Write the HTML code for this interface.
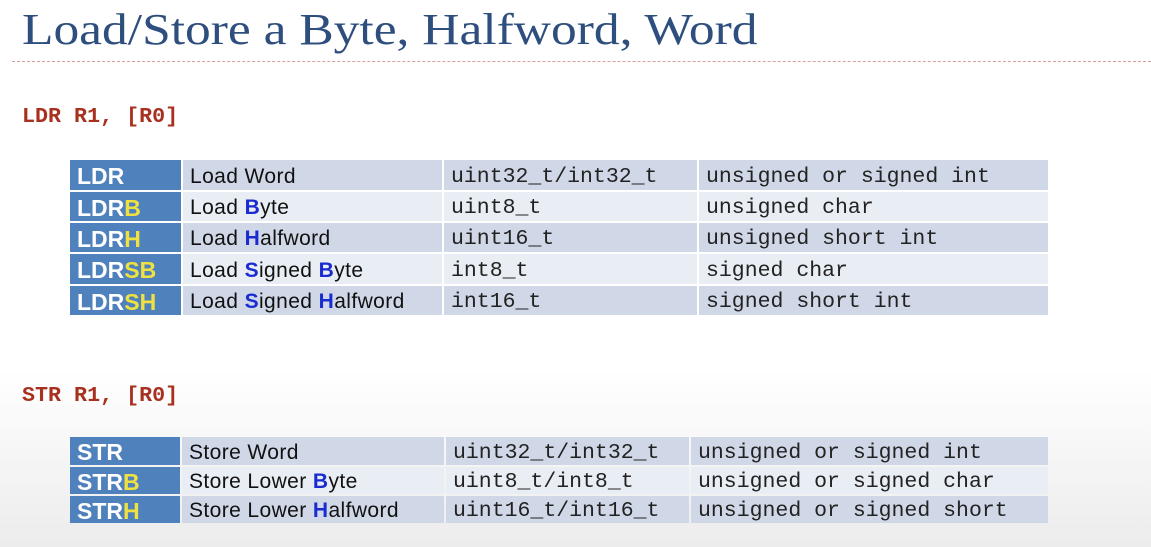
<!DOCTYPE html>
<html><head><style>
body{margin:0;width:1151px;height:547px;overflow:hidden;position:relative;font-family:"Liberation Sans",sans-serif;
background:linear-gradient(#fff 0px,#fff 370px,#ececec 547px);}
.t{position:absolute;left:22px;top:4px;font-family:"Liberation Serif",serif;font-size:44px;color:#2e4f7e;white-space:nowrap;transform:scaleX(1.17);transform-origin:left top;}
.hr{position:absolute;left:12px;top:61px;width:1139px;border-top:1px dashed #d9a09a;}
.code{position:absolute;left:22px;font-family:"Liberation Mono",monospace;font-weight:bold;font-size:21.7px;color:#a8301e;}
.c{position:absolute;box-sizing:border-box;white-space:nowrap;display:flex;align-items:center;padding-top:3px;}
.h{background:#4f81bd;color:#fff;font-weight:bold;font-size:23px;padding-left:7px;}
.h b{color:#f0e040;}
.d{background:#d0d8e8;}
.l{background:#e9edf4;}
.s{font-size:21px;letter-spacing:0.4px;color:#111;padding-left:7px;}
.s b{color:#1a2cd0;}
.m{font-family:"Liberation Mono",monospace;font-size:21.5px;color:#222;padding-left:7px;}
</style></head><body>
<div class="t">Load/Store a Byte, Halfword, Word</div>
<div class="hr"></div>
<div class="code" style="top:104px">LDR R1, [R0]</div>
<div class="code" style="top:383px">STR R1, [R0]</div>

<div class="c h" style="left:70px;top:160px;width:111px;height:30px">LDR</div>
<div class="c s d" style="left:183px;top:160px;width:259px;height:30px">Load Word</div>
<div class="c m d" style="left:444px;top:160px;width:253px;height:30px">uint32_t/int32_t</div>
<div class="c m d" style="left:699px;top:160px;width:349px;height:30px">unsigned or signed int</div>

<div class="c h" style="left:70px;top:192px;width:111px;height:29px">LDR<b>B</b></div>
<div class="c s l" style="left:183px;top:192px;width:259px;height:29px">Load&nbsp;<b>B</b>yte</div>
<div class="c m l" style="left:444px;top:192px;width:253px;height:29px">uint8_t</div>
<div class="c m l" style="left:699px;top:192px;width:349px;height:29px">unsigned char</div>

<div class="c h" style="left:70px;top:223px;width:111px;height:29px">LDR<b>H</b></div>
<div class="c s d" style="left:183px;top:223px;width:259px;height:29px">Load&nbsp;<b>H</b>alfword</div>
<div class="c m d" style="left:444px;top:223px;width:253px;height:29px">uint16_t</div>
<div class="c m d" style="left:699px;top:223px;width:349px;height:29px">unsigned short int</div>

<div class="c h" style="left:70px;top:254px;width:111px;height:30px">LDR<b>SB</b></div>
<div class="c s l" style="left:183px;top:254px;width:259px;height:30px">Load&nbsp;<b>S</b>igned&nbsp;<b>B</b>yte</div>
<div class="c m l" style="left:444px;top:254px;width:253px;height:30px">int8_t</div>
<div class="c m l" style="left:699px;top:254px;width:349px;height:30px">signed char</div>

<div class="c h" style="left:70px;top:286px;width:111px;height:29px">LDR<b>SH</b></div>
<div class="c s d" style="left:183px;top:286px;width:259px;height:29px">Load&nbsp;<b>S</b>igned&nbsp;<b>H</b>alfword</div>
<div class="c m d" style="left:444px;top:286px;width:253px;height:29px">int16_t</div>
<div class="c m d" style="left:699px;top:286px;width:349px;height:29px">signed short int</div>

<div class="c h" style="left:70px;top:437px;width:110px;height:28px">STR</div>
<div class="c s d" style="left:182px;top:437px;width:262px;height:28px">Store Word</div>
<div class="c m d" style="left:446px;top:437px;width:243px;height:28px">uint32_t/int32_t</div>
<div class="c m d" style="left:691px;top:437px;width:357px;height:28px">unsigned or signed int</div>

<div class="c h" style="left:70px;top:467px;width:110px;height:27px">STR<b>B</b></div>
<div class="c s l" style="left:182px;top:467px;width:262px;height:27px">Store Lower&nbsp;<b>B</b>yte</div>
<div class="c m l" style="left:446px;top:467px;width:243px;height:27px">uint8_t/int8_t</div>
<div class="c m l" style="left:691px;top:467px;width:357px;height:27px">unsigned or signed char</div>

<div class="c h" style="left:70px;top:496px;width:110px;height:27px">STR<b>H</b></div>
<div class="c s d" style="left:182px;top:496px;width:262px;height:27px">Store Lower&nbsp;<b>H</b>alfword</div>
<div class="c m d" style="left:446px;top:496px;width:243px;height:27px">uint16_t/int16_t</div>
<div class="c m d" style="left:691px;top:496px;width:357px;height:27px">unsigned or signed short</div>
</body></html>
